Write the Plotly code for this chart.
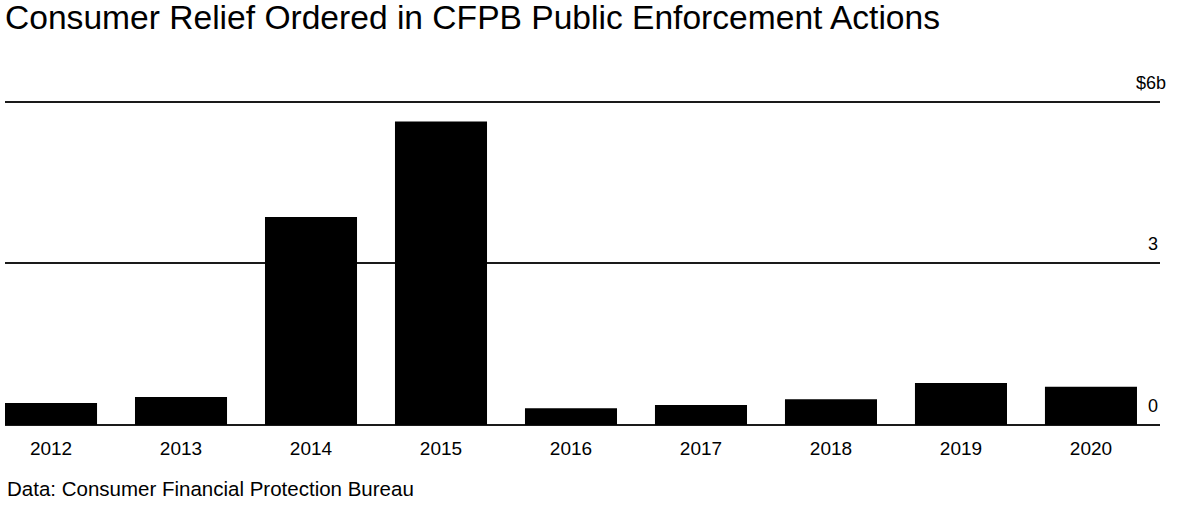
import plotly.graph_objects as go

years = ["2012", "2013", "2014", "2015", "2016", "2017", "2018", "2019", "2020"]
relief_bn = [0.41, 0.52, 3.86, 5.63, 0.31, 0.37, 0.48, 0.78, 0.71]
y_tickvals = [0, 3, 6]
y_ticktext = ["0", "3", "$6b"]

title_text = "Consumer Relief Ordered in CFPB Public Enforcement Actions"
source_text = "Data: Consumer Financial Protection Bureau"

FONT = "Liberation Sans, Arial, Helvetica, sans-serif"
W, H = 1200, 511
ml, mr, mt, mb = 5, 40, 95, 86
plot_h = H - mt - mb

fig = go.Figure()
fig.add_trace(go.Bar(
    x=years, y=relief_bn,
    marker=dict(color="#000000", line=dict(width=0)),
    hoverinfo="skip",
))

annotations = []
for v, t in zip(y_tickvals, y_ticktext):
    annotations.append(dict(
        x=1, xref="paper", y=v, yref="y",
        text=t, showarrow=False, xanchor="right", yanchor="middle",
        xshift=8 if t.endswith("b") else 0, yshift=19,
        font=dict(family=FONT, size=18, color="#000"),
    ))
annotations.append(dict(
    x=0, xref="paper", y=-(488 - (H - mb)) / plot_h, yref="paper",
    text=source_text, showarrow=False, xanchor="left", yanchor="middle",
    font=dict(family=FONT, size=20.5, color="#000"),
))

fig.update_layout(
    width=W, height=H,
    margin=dict(l=ml, r=mr, t=mt, b=mb, pad=0),
    paper_bgcolor="white", plot_bgcolor="white",
    showlegend=False,
    bargap=0.292,
    title=dict(
        text=title_text, x=5 / W, xref="container", xanchor="left",
        y=1 - 17 / H, yref="container", yanchor="middle",
        font=dict(family=FONT, size=33.6, color="#000"),
    ),
    xaxis=dict(
        type="category", range=[-0.354, 8.531],
        showgrid=False, zeroline=False, showline=False,
        ticks="", ticklabelstandoff=10,
        tickfont=dict(family=FONT, size=19, color="#000"),
    ),
    yaxis=dict(
        range=[0, plot_h / 53.9], tickvals=y_tickvals, showticklabels=False,
        showgrid=True, gridcolor="#1a1a1a", gridwidth=1.5,
        zeroline=True, zerolinecolor="#1a1a1a", zerolinewidth=1.5,
        showline=False,
    ),
    annotations=annotations,
)

fig.write_html(
    "out.html",
    config={"displayModeBar": False},
    post_script="document.body.style.margin='0';document.body.style.overflow='hidden';",
)
